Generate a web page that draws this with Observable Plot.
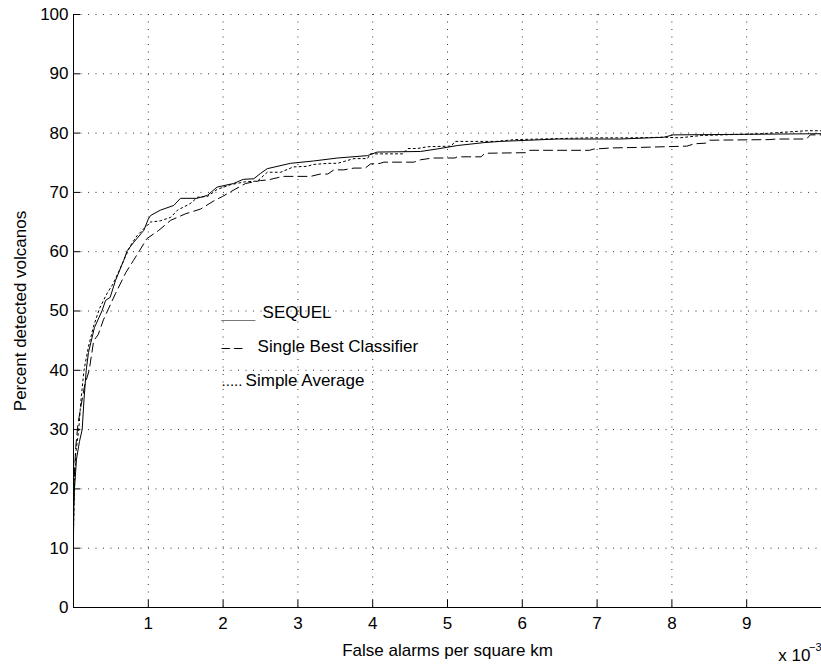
<!DOCTYPE html>
<html><head><meta charset="utf-8">
<script src="https://cdn.jsdelivr.net/npm/d3@7"></script>
<script src="https://cdn.jsdelivr.net/npm/@observablehq/plot@0.6"></script>
<style>
body{margin:0;background:#fff;}
#chart svg{font-family:"Liberation Sans",Arial,Helvetica,sans-serif;background:#fff;}
</style>
</head><body><div id="chart"></div>
<script>
const seriesNames = ["SEQUEL", "Single Best Classifier", "Simple Average"];

const sequelX = [0,0.005,0.013,0.04,0.08,0.116,0.14,0.17,0.2,0.28,0.38,0.43,0.49,0.56,0.67,0.72,0.8,0.94,1.0,1.03,1.16,1.34,1.43,1.65,1.79,1.92,2.14,2.27,2.41,2.5,2.59,2.9,3.21,3.53,3.93,4.06,4.64,4.9,5.13,5.49,5.71,6.47,7.31,7.89,8.02,10];
const sequelY = [12,17,20,25,28,30,35,40,43,47.2,50,51.8,52.3,55.1,58.5,60.2,61.5,63.6,65.5,66.1,67,67.8,69,69,69.5,70.9,71.5,72.2,72.3,73.2,74,74.9,75.3,75.8,76.2,76.8,76.9,77.4,77.9,78.4,78.6,79.0,79.0,79.3,79.7,79.9];

const singleX = [0,0.01,0.03,0.06,0.1,0.15,0.21,0.27,0.33,0.4,0.49,0.56,0.7,0.8,0.87,0.98,1.14,1.3,1.5,1.7,1.88,1.99,2.17,2.3,2.5,2.6,2.8,3.17,3.3,3.4,3.48,3.61,3.75,3.9,3.97,4.1,4.15,4.55,4.64,4.8,5.1,5.13,5.45,5.5,6.05,6.1,6.9,6.95,7.2,7.6,8.2,8.3,8.45,8.5,9.3,9.4,9.8,9.85,10];
const singleY = [15,22,27,31,34,37.5,40,45,46,48.5,51,52.9,56.5,58.5,59.9,62.2,63.6,65.3,66.4,67.2,68.6,69.3,70.6,71.5,72.0,72.1,72.7,72.7,73.1,73.1,73.8,73.8,74.1,74.1,74.8,74.9,75.1,75.1,75.5,75.8,75.8,76,76,76.6,76.7,77.1,77.1,77.3,77.5,77.6,77.8,78.2,78.3,78.8,78.9,79.0,79.0,79.7,79.7];

const averageX = [0,0.01,0.03,0.07,0.1,0.14,0.2,0.27,0.35,0.45,0.53,0.6,0.67,0.76,0.85,0.95,1.03,1.16,1.3,1.39,1.56,1.66,1.79,1.92,2.1,2.3,2.46,2.59,2.77,2.94,3.13,3.2,3.4,3.53,3.75,3.93,3.97,4.4,4.47,4.6,4.73,5.05,5.1,5.5,5.65,5.9,6.9,7.45,7.9,8.1,8.4,9.2,9.8,10];
const averageY = [13,20,26,30,35,40,44,47.5,50.5,53,54.6,56.5,58.5,61,62.7,64,65,65.2,65.8,67,68.1,69.2,69.3,70.5,71.3,71.8,71.9,73.4,73.4,74.3,74.4,74.7,74.9,74.9,75.7,75.7,76.5,76.5,77.4,77.4,77.7,77.8,78.6,78.6,78.6,78.9,79.2,79.2,79.3,79.2,79.6,79.9,80.4,80.4];

const xTicks = [1, 2, 3, 4, 5, 6, 7, 8, 9];
const yTicks = [0, 10, 20, 30, 40, 50, 60, 70, 80, 90, 100];
const xLabel = "False alarms per square km";
const yLabel = "Percent detected volcanos";
const xExponentBase = "x 10";
const xExponent = "\u22123";
const legendSamples = ["____", "\u2013 \u2013", "....."];

const rows = [];
[[sequelX, sequelY], [singleX, singleY], [averageX, averageY]].forEach(([xs, ys], s) => {
  xs.forEach((x, i) => rows.push({series: seriesNames[s], x, y: ys[i]}));
});

const dashes = {"SEQUEL": null, "Single Best Classifier": "9,5", "Simple Average": "2,3"};
const FS = 17;
const W = 821, H = 664, ML = 73, MR = 0, MT = 14, MB = 57, TICK = 7;
const legendX = 1.98, legendTop = 49.7, legendStep = 5.73;
const labelOffsets = [41, 36, 24];

const chart = Plot.plot({
  width: W,
  height: H,
  marginLeft: ML,
  marginRight: MR,
  marginTop: MT,
  marginBottom: MB,
  style: {fontSize: FS + "px", fontFamily: '"Liberation Sans", Arial, sans-serif', color: "#000", background: "#fff"},
  x: {domain: [0, 10], axis: null},
  y: {domain: [0, 100], axis: null},
  marks: [
    Plot.gridX(xTicks, {stroke: "#333", strokeOpacity: 1, strokeWidth: 1, strokeDasharray: "1,6.5"}),
    Plot.gridY(yTicks.filter(d => d > 0), {stroke: "#333", strokeOpacity: 1, strokeWidth: 1, strokeDasharray: "1,6.5"}),
    ...seriesNames.map(name => Plot.line(rows.filter(r => r.series === name), {
      x: "x", y: "y", stroke: "#000", strokeWidth: 1, strokeDasharray: dashes[name]
    })),
    Plot.ruleX([0], {stroke: "#000"}),
    Plot.ruleY([0], {stroke: "#000"}),
    Plot.tickX(xTicks, {x: d => d, stroke: "#000", insetTop: H - MT - MB - TICK}),
    Plot.tickY(yTicks, {y: d => d, stroke: "#000", insetRight: W - ML - MR - TICK}),
    Plot.text(xTicks, {x: d => d, frameAnchor: "bottom", lineAnchor: "top", dy: 9, fontSize: FS, fill: "#000"}),
    Plot.text(yTicks, {y: d => d, frameAnchor: "left", textAnchor: "end", dx: -5, fontSize: FS, fill: "#000"}),
    Plot.text([xLabel], {frameAnchor: "bottom", lineAnchor: "bottom", dy: 48, fontSize: FS, fill: "#000"}),
    Plot.text([yLabel], {frameAnchor: "left", textAnchor: "middle", dx: -53, rotate: -90, fontSize: FS, fill: "#000"}),
    Plot.text([xExponentBase], {frameAnchor: "bottom-right", lineAnchor: "bottom", dx: -11, dy: 53, textAnchor: "end", fontSize: FS, fill: "#000"}),
    Plot.text([xExponent], {frameAnchor: "bottom-right", lineAnchor: "bottom", dx: 0, dy: 43, textAnchor: "end", fontSize: 11, fill: "#000"}),
    Plot.text(legendSamples, {x: () => legendX, y: (d, i) => legendTop - i * legendStep, textAnchor: "start", fontSize: 15, fill: (d, i) => i === 0 ? "#777" : "#000"}),
    ...seriesNames.map((name, i) => Plot.text([name], {x: () => legendX, y: () => legendTop - i * legendStep, dx: labelOffsets[i], textAnchor: "start", fontSize: FS, fill: "#000"}))
  ]
});
document.getElementById("chart").append(chart);
</script>
</body></html>
